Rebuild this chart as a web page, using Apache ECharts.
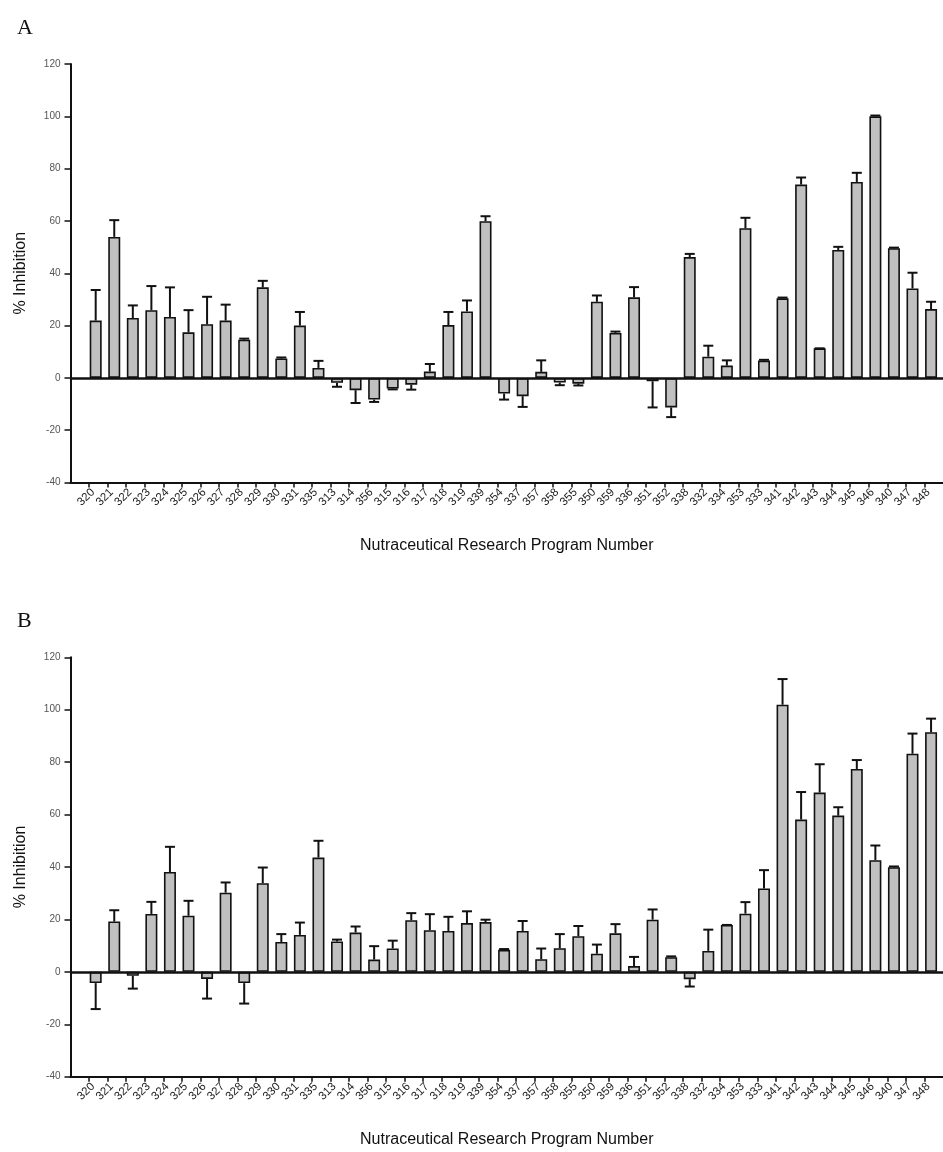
<!DOCTYPE html>
<html>
<head>
<meta charset="utf-8">
<script src="https://cdn.jsdelivr.net/npm/echarts@6/dist/echarts.min.js"></script>
<style>
  html, body { margin: 0; padding: 0; background: #fff; }
  #chart { width: 943px; height: 1152px; }
</style>
</head>
<body>
<div id="chart"></div>
<script>
// program numbers, same order in both panels
const programs = ["320", "321", "322", "323", "324", "325", "326", "327", "328", "329", "330", "331",
  "335", "313", "314", "356", "315", "316", "317", "318", "319", "339", "354", "337", "357", "358",
  "355", "350", "359", "336", "351", "352", "338", "332", "334", "353", "333", "341", "342", "343",
  "344", "345", "346", "340", "347", "348"]

// panel A
const inhibitionA = [21.9, 53.9, 22.9, 25.9, 23.3, 17.4, 20.5, 21.9, 14.6, 34.6, 7.4, 20.0, 3.8, -1.9,
  -4.7, -8.3, -4.1, -2.6, 2.4, 20.2, 25.4, 59.9, -6.0, -7.0, 2.3, -1.8, -2.2, 29.1, 17.2, 30.8, -1.3,
  -11.3, 46.2, 8.1, 4.7, 57.2, 6.6, 30.4, 73.9, 11.3, 48.9, 74.9, 100.0, 49.6, 34.2, 26.3]
const errorA = [11.7, 6.4, 4.8, 9.2, 11.3, 8.5, 10.5, 6.1, 0.4, 2.5, 0.4, 5.2, 2.7, 1.5, 4.9, 0.9, 0.3,
  1.9, 2.9, 5.0, 4.2, 1.9, 2.3, 4.1, 4.4, 1.0, 0.7, 2.4, 0.5, 3.9, 10.0, 3.7, 1.2, 4.2, 2.0, 4.0, 0.3,
  0.3, 2.7, 0, 1.2, 3.5, 0.3, 0.2, 6.0, 2.8]

// panel B
const inhibitionB = [-4.3, 19.2, -1.5, 22.1, 38.1, 21.4, -2.7, 30.2, -4.3, 33.8, 11.4, 14.1, 43.6, 11.6,
  15.0, 4.7, 8.9, 19.7, 15.9, 15.6, 18.6, 19.0, 8.4, 15.6, 4.8, 9.0, 13.6, 6.9, 14.7, 2.2, 19.9, 5.6,
  -2.8, 8.0, 17.9, 22.2, 31.8, 101.9, 58.1, 68.4, 59.6, 77.4, 42.6, 39.9, 83.2, 91.4]
const errorB = [9.9, 4.3, 4.9, 4.6, 9.6, 5.7, 7.5, 3.9, 7.8, 6.0, 3.0, 4.7, 6.4, 0.7, 2.3, 5.1, 3.0, 2.7,
  6.1, 5.4, 4.5, 0.9, 0.3, 3.8, 4.1, 5.4, 3.9, 3.5, 3.5, 3.5, 3.9, 0.3, 2.8, 8.1, 0, 4.4, 7.0, 9.8,
  10.5, 10.8, 3.2, 3.4, 5.6, 0.3, 7.7, 5.2]

const yMin = -40
const yMax = 120
const yStep = 20

const chart = echarts.init(document.getElementById("chart"))
const font = "Liberation Sans, Arial, sans-serif"

function xAxisFor(gi) {
  return {
    type: "value",
    gridIndex: gi,
    min: -1.357,
    max: 45.643,
    splitLine: { show: false },
    axisLine: { onZero: false, lineStyle: { color: "#111", width: 2 } },
    axisTick: {
      length: 5,
      lineStyle: { color: "#111", width: 1.5 },
      customValues: programs.map((p, i) => i - 0.357),
    },
    axisLabel: {
      customValues: programs.map((p, i) => i - 0.15),
      formatter: (v) => programs[Math.round(v)] || "",
      rotate: 45,
      fontSize: 11.5,
      fontFamily: font,
      color: "#222",
      margin: 8,
    },
    name: "Nutraceutical Research Program Number",
    nameLocation: "middle",
    nameGap: 55,
    nameTextStyle: { fontSize: 16, fontFamily: font, color: "#111" },
  }
}

function yAxisFor(gi) {
  return {
    type: "value",
    gridIndex: gi,
    min: yMin,
    max: yMax,
    interval: yStep,
    splitLine: { show: false },
    axisLine: { show: true, onZero: false, lineStyle: { color: "#111", width: 2 } },
    axisTick: { show: true, length: 6, lineStyle: { color: "#111", width: 1.5 } },
    axisLabel: { fontSize: 10, fontFamily: font, color: "#555", margin: 10 },
    name: "% Inhibition",
    nameLocation: "middle",
    nameRotate: 90,
    nameGap: 42,
    nameTextStyle: { fontSize: 16, fontFamily: font, color: "#111" },
  }
}

function barSeries(gi, values) {
  return {
    type: "bar",
    xAxisIndex: gi,
    yAxisIndex: gi,
    data: values.map((v, i) => [i, v]),
    barWidth: 12,
    itemStyle: { color: "#c0c0c0", borderColor: "#111", borderWidth: 1.6 },
    markLine: {
      silent: true,
      symbol: "none",
      label: { show: false },
      lineStyle: { color: "#111", width: 2.5, type: "solid" },
      data: [{ yAxis: 0 }],
    },
    animation: false,
  }
}

// one-sided error bars, pointing away from zero
function errorSeries(gi, values, errors) {
  return {
    type: "custom",
    xAxisIndex: gi,
    yAxisIndex: gi,
    data: values.map((v, i) => [i, v, errors[i]]),
    renderItem: (params, api) => {
      const x = api.value(0)
      const v = api.value(1)
      const e = api.value(2)
      const end = v >= 0 ? v + e : v - e
      const p0 = api.coord([x, v])
      const p1 = api.coord([x, end])
      const st = { stroke: "#111", lineWidth: 2 }
      return {
        type: "group",
        children: [
          { type: "line", shape: { x1: p0[0], y1: p0[1], x2: p1[0], y2: p1[1] }, style: st },
          { type: "line", shape: { x1: p1[0] - 5, y1: p1[1], x2: p1[0] + 5, y2: p1[1] }, style: st },
        ],
      }
    },
    z: 3,
    animation: false,
  }
}

chart.setOption({
  backgroundColor: "#fff",
  title: [
    { text: "A", left: 12, top: 12, textStyle: { fontFamily: "Liberation Serif, serif", fontSize: 22, fontWeight: "normal", color: "#111" } },
    { text: "B", left: 12, top: 605, textStyle: { fontFamily: "Liberation Serif, serif", fontSize: 22, fontWeight: "normal", color: "#111" } },
  ],
  grid: [
    { left: 70.5, right: -9.2, top: 64, height: 418.5 },
    { left: 70.5, right: -9.2, top: 657.3, height: 419.4 },
  ],
  xAxis: [xAxisFor(0), xAxisFor(1)],
  yAxis: [yAxisFor(0), yAxisFor(1)],
  series: [
    barSeries(0, inhibitionA),
    errorSeries(0, inhibitionA, errorA),
    barSeries(1, inhibitionB),
    errorSeries(1, inhibitionB, errorB),
  ],
})

window.addEventListener("resize", () => chart.resize())
</script>
</body>
</html>
